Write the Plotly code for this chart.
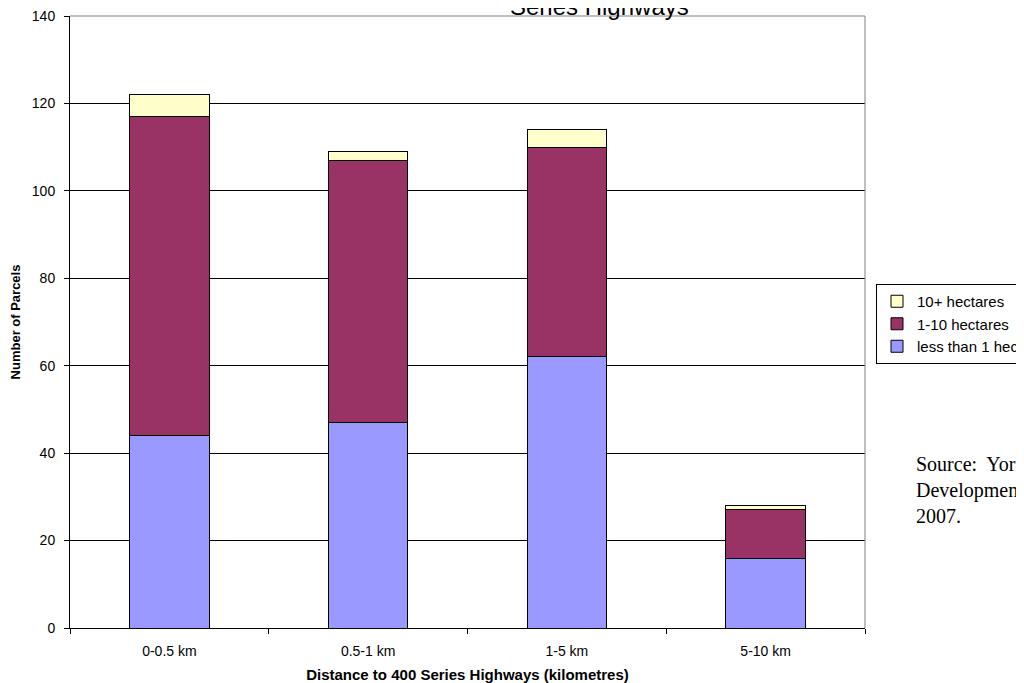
import plotly.graph_objects as go

categories = ["0-0.5 km", "0.5-1 km", "1-5 km", "5-10 km"]
less_than_1 = [44, 47, 62, 16]
one_to_ten = [73, 60, 48, 11]
ten_plus = [5, 2, 4, 1]

series_names = ["less than 1 hectare", "1-10 hectares", "10+ hectares"]
series_values = [less_than_1, one_to_ten, ten_plus]
series_colors = ["#9999FF", "#993366", "#FFFFCC"]

FONT = "Liberation Sans, Arial, sans-serif"
SERIF = "Liberation Serif, Times New Roman, serif"

# page body has an 8px margin, so the figure starts at (8, 8)
W, H = 1016, 675
L, R, T, B = 62, 159, 8, 55
PW, PH = W - L - R, H - T - B

fig = go.Figure()
for name, vals, col in zip(series_names, series_values, series_colors):
    fig.add_trace(go.Bar(
        x=categories, y=vals, name=name,
        marker=dict(color=col, line=dict(color="black", width=1)),
    ))

fig.update_layout(
    barmode="stack",
    bargap=0.6,
    width=W, height=H,
    margin=dict(l=L, r=R, t=T, b=B, autoexpand=False),
    paper_bgcolor="white", plot_bgcolor="white",
    font=dict(family=FONT, size=14, color="black"),
    showlegend=True,
    legend=dict(
        traceorder="reversed",
        x=(868 - L) / PW, y=(H - B - 276) / PH, xanchor="left", yanchor="top",
        bordercolor="black", borderwidth=1,
        font=dict(size=15, family=FONT),
        itemwidth=30, tracegroupgap=0,
    ),
    xaxis=dict(
        showline=True, linecolor="black", linewidth=1,
        ticks="outside", ticklen=5, tickcolor="black",
        tickson="boundaries",
        ticklabelstandoff=10,
        title=dict(text="<b>Distance to 400 Series Highways (kilometres)</b>",
                   font=dict(size=15, family=FONT), standoff=14),
        tickfont=dict(size=14),
    ),
    yaxis=dict(
        range=[0, 140], dtick=20,
        showline=True, linecolor="black", linewidth=1,
        ticks="outside", ticklen=5, tickcolor="black",
        ticklabelstandoff=6, ticklabeloverflow="allow",
        showgrid=True, gridcolor="black", gridwidth=1,
        zeroline=False,
        title=dict(text="<b>Number of Parcels</b>",
                   font=dict(size=13, family=FONT), standoff=10),
        tickfont=dict(size=14),
    ),
)

# right and top border of plot area (gray)
fig.add_shape(type="line", xref="paper", yref="paper", x0=1, x1=1, y0=0, y1=1,
              line=dict(color="#808080", width=1))
fig.add_shape(type="line", xref="paper", yref="paper", x0=0, x1=1, y0=1, y1=1,
              line=dict(color="#808080", width=1))

fig.add_annotation(
    text="Series Highways", xref="paper", yref="paper",
    x=(591 - L) / PW, y=(H - B - 14) / PH, xanchor="center", yanchor="bottom",
    showarrow=False, font=dict(size=24, family=FONT),
)

fig.add_annotation(
    text="Source:  York Region Planning and<br>Development Services Department,<br>2007.",
    xref="paper", yref="paper",
    x=(906 - L) / PW, y=(H - B - 443) / PH, xanchor="left", yanchor="top",
    align="left", showarrow=False,
    font=dict(size=20, family=SERIF),
)

fig.write_html("out.html")
